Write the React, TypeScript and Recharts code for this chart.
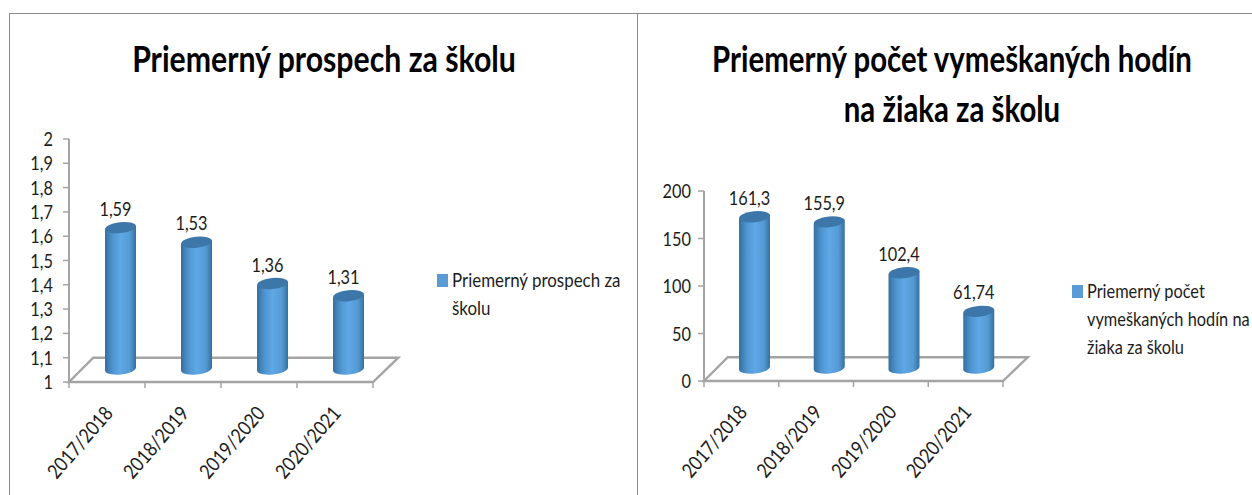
import React from 'react';
import { BarChart, Bar, XAxis, YAxis, Legend, LabelList, ReferenceArea } from 'recharts';

const categories = ['2017/2018', '2018/2019', '2019/2020', '2020/2021'];

const prospechValues = [1.59, 1.53, 1.36, 1.31];
const prospechTicks = [1, 1.1, 1.2, 1.3, 1.4, 1.5, 1.6, 1.7, 1.8, 1.9, 2];
const prospechTitle = ['Priemerný prospech za školu'];
const prospechLegend = ['Priemerný prospech za', 'školu'];

const hodinyValues = [161.3, 155.9, 102.4, 61.74];
const hodinyTicks = [0, 50, 100, 150, 200];
const hodinyTitle = ['Priemerný počet vymeškaných hodín', 'na žiaka za školu'];
const hodinyLegend = ['Priemerný počet', 'vymeškaných hodín na', 'žiaka za školu'];

const FONT = 'Lato, "Open Sans", sans-serif';
const TEXT = '#1c1c1c';
const AXIS = '#a4a4a4';
const FRAME = '#8c8c8c';
const NARROW = 0.86; // the reference text is squeezed horizontally
const DX = 13; // 3D shift of the cylinders
const DY = 11;
const TILT = 0.11;

const comma = (v: number | string) => String(v).replace('.', ',');

const Cylinder = (props: any) => {
  const { x, y, width, height, gradient } = props;
  const cx = x + width / 2 + DX;
  const top = y - DY;
  const bottom = y + height - DY - 2;
  const r = width / 2;
  const t = r * TILT;
  const arc = `A ${r} 5.5 -6 0 0`;
  return (
    <g>
      <path
        d={`M ${cx - r} ${top + t} L ${cx - r} ${bottom + t} ${arc} ${cx + r} ${bottom - t} L ${cx + r} ${top - t} Z`}
        fill={`url(#${gradient})`}
      />
      <ellipse cx={cx} cy={top} rx={r} ry={5.5} fill="#3d77a9" transform={`rotate(-6 ${cx} ${top})`} />
    </g>
  );
};

const Floor = (props: any) => {
  const { x, y, width, height } = props;
  const bottom = y + height;
  const step = width / categories.length;
  return (
    <g stroke={AXIS} strokeWidth={2.4} fill="none">
      <path d={`M ${x} ${bottom} L ${x + height} ${y} L ${x + width + height + 1} ${y} L ${x + width} ${bottom} Z`} fill="#fff" />
      {[0, 1, 2, 3, 4].map((i) => (
        <line key={i} x1={x + i * step} x2={x + i * step} y1={bottom} y2={bottom + 6} strokeWidth={1.5} />
      ))}
    </g>
  );
};

const CategoryTick = ({ x, y, payload }: any) => (
  <text
    transform={`translate(${x + 7} ${y + 24}) rotate(-49) scale(${NARROW} 1)`}
    textAnchor="end"
    fontFamily={FONT}
    fontSize={20}
    fill={TEXT}
  >
    {payload.value}
  </text>
);

const ValueTick = ({ x, y, payload, gap }: any) => (
  <text
    transform={`translate(${x - gap} ${y + 7}) scale(${NARROW} 1)`}
    textAnchor="end"
    fontFamily={FONT}
    fontSize={19}
    fill={TEXT}
  >
    {comma(payload.value)}
  </text>
);

const ValueLabel = ({ x, y, width, value }: any) => (
  <text
    transform={`translate(${x + width / 2 + DX - 5} ${y - DY - 12}) scale(${NARROW} 1)`}
    textAnchor="middle"
    fontFamily={FONT}
    fontSize={19}
    fill={TEXT}
  >
    {comma(value)}
  </text>
);

const ChartLegend = ({ lines, squeeze }: { lines: string[]; squeeze: number }) => (
  <div style={{ position: 'relative', fontFamily: FONT, fontSize: 19, color: TEXT, lineHeight: '28px', whiteSpace: 'nowrap' }}>
    <span style={{ position: 'absolute', left: -15, top: 8, width: 11, height: 13, background: '#5b9bd5' }} />
    <div style={{ transform: `scaleX(${squeeze})`, transformOrigin: 'left top' }}>
      {lines.map((l) => (
        <div key={l}>{l}</div>
      ))}
    </div>
  </div>
);

interface PanelProps {
  id: string;
  left: number;
  width: number;
  values: number[];
  ticks: number[];
  floorTop: number;
  plotLeft: number;
  plotTop: number;
  plotRight: number;
  plotBottom: number;
  tickGap: number;
  legend: string[];
  legendLeft: number;
  legendTop: number;
  legendSqueeze: number;
  seriesName: string;
}

const Panel = (p: PanelProps) => {
  const data = categories.map((name, i) => ({ name, value: p.values[i] }));
  return (
    <div style={{ position: 'absolute', left: p.left, top: 0 }}>
      <BarChart
        width={p.width}
        height={495}
        data={data}
        margin={{ left: p.plotLeft - 60, top: p.plotTop, right: p.width - p.plotRight, bottom: 495 - p.plotBottom - 100 }}
      >
        <defs>
          <linearGradient id={p.id} x1="0" y1="0" x2="1" y2="0">
            <stop offset="0" stopColor="#35709f" />
            <stop offset="0.25" stopColor="#4f95d0" />
            <stop offset="0.5" stopColor="#5fa8e6" />
            <stop offset="0.8" stopColor="#559ad4" />
            <stop offset="1" stopColor="#35709f" />
          </linearGradient>
        </defs>
        <XAxis dataKey="name" height={100} axisLine={false} tickLine={false} tick={<CategoryTick />} interval={0} />
        <YAxis
          width={60}
          domain={[p.ticks[0], p.ticks[p.ticks.length - 1]]}
          ticks={p.ticks}
          interval={0}
          axisLine={{ stroke: AXIS, strokeWidth: 2 }}
          tickLine={{ stroke: AXIS, strokeWidth: 1.5 }}
          tickSize={6}
          tick={<ValueTick gap={p.tickGap} />}
        />
        <ReferenceArea y1={p.ticks[0]} y2={p.floorTop} shape={<Floor />} />
        <Legend
          layout="vertical"
          align="center"
          verticalAlign="middle"
          wrapperStyle={{ left: p.legendLeft, top: p.legendTop, width: 'auto' }}
          content={() => <ChartLegend lines={p.legend} squeeze={p.legendSqueeze} />}
        />
        <Bar dataKey="value" name={p.seriesName} fill="#5b9bd5" barSize={31} isAnimationActive={false} shape={<Cylinder gradient={p.id} />}>
          <LabelList dataKey="value" content={<ValueLabel />} />
        </Bar>
      </BarChart>
    </div>
  );
};

const Title = ({ lines, center, squeeze }: { lines: string[]; center: number; squeeze: number }) => (
  <div
    style={{
      position: 'absolute',
      left: center - 320,
      width: 640,
      top: 33,
      textAlign: 'center',
      fontFamily: FONT,
      fontWeight: 700,
      fontSize: 36,
      lineHeight: '50px',
      color: '#000',
      whiteSpace: 'nowrap',
      transform: `scaleX(${squeeze})`,
    }}
  >
    {lines.map((l) => (
      <div key={l}>{l}</div>
    ))}
  </div>
);

export default function App() {
  return (
    <div style={{ position: 'absolute', left: 0, top: 0, width: 1252, height: 495, background: '#fff', overflow: 'hidden' }}>
      <div style={{ position: 'absolute', left: 9, top: 13, width: 1243, height: 1, background: FRAME }} />
      <div style={{ position: 'absolute', left: 9, top: 13, width: 1, height: 482, background: FRAME }} />
      <div style={{ position: 'absolute', left: 637, top: 13, width: 1, height: 482, background: FRAME }} />
      <Panel
        id="cylLeft"
        left={0}
        width={637}
        values={prospechValues}
        ticks={prospechTicks}
        floorTop={1.1}
        plotLeft={69}
        plotTop={139}
        plotRight={373}
        plotBottom={382}
        tickGap={8}
        legend={prospechLegend}
        legendLeft={452}
        legendTop={266}
        legendSqueeze={0.89}
        seriesName={prospechTitle[0]}
      />
      <Panel
        id="cylRight"
        left={637}
        width={615}
        values={hodinyValues}
        ticks={hodinyTicks}
        floorTop={25}
        plotLeft={67}
        plotTop={191}
        plotRight={366}
        plotBottom={381}
        tickGap={5}
        legend={hodinyLegend}
        legendLeft={450}
        legendTop={277}
        legendSqueeze={0.86}
        seriesName={hodinyTitle.join(' ')}
      />
      <Title lines={prospechTitle} center={324} squeeze={0.84} />
      <Title lines={hodinyTitle} center={952} squeeze={0.816} />
    </div>
  );
}
